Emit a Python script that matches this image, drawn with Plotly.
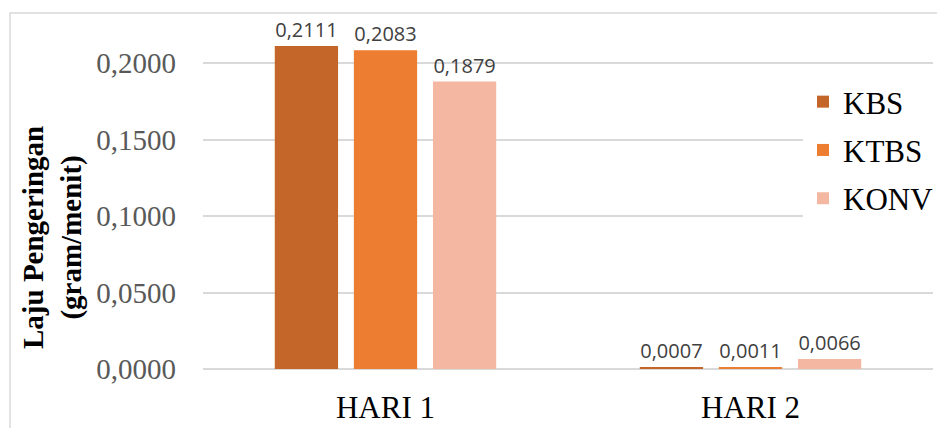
import plotly.graph_objects as go

categories = ["HARI 1", "HARI 2"]
series_names = ["KBS", "KTBS", "KONV"]
kbs = [0.2111, 0.0007]
ktbs = [0.2083, 0.0011]
konv = [0.1879, 0.0066]
colors = ["#C4662A", "#ED7D31", "#F4B7A1"]
y_ticks = [0.0, 0.05, 0.10, 0.15, 0.20]

W, H = 937, 428
L, R, T, B = 203, 4, 13, 59
pw = W - L - R
ph = H - T - B

def px_x(p):
    return (p - L) / pw

def px_y(p):
    return (H - B - p) / ph

fig = go.Figure()
for name, vals, col in zip(series_names, [kbs, ktbs, konv], colors):
    fig.add_trace(go.Bar(
        x=categories, y=vals, name=name, marker_color=col,
        marker_line_width=0,
        texttemplate="%{y:.4f}", textposition="outside", cliponaxis=False,
        textfont=dict(family="Open Sans", size=20, color="#404040"),
        legendgroup=name,
    ))

fig.update_layout(
    width=W, height=H,
    margin=dict(l=L, r=R, t=T, b=B, pad=0, autoexpand=False),
    paper_bgcolor="white", plot_bgcolor="white",
    separators=", ",
    barmode="group", bargap=0.35, bargroupgap=0.2,
    showlegend=True,
    legend=dict(
        x=px_x(803), y=px_y(75), xanchor="left", yanchor="top",
        font=dict(family="Liberation Serif", size=31, color="black"),
        bgcolor="white", tracegroupgap=5, itemwidth=30,
    ),
    xaxis=dict(
        showgrid=False, showline=False, ticks="", automargin=False,
        tickfont=dict(family="Liberation Serif", size=31, color="black"),
        ticklabelstandoff=17,
    ),
    yaxis=dict(
        range=[0, 0.2327], tickvals=y_ticks, tickformat=".4f", automargin=False,
        showgrid=True, gridcolor="#D9D9D9", gridwidth=1.5,
        zeroline=True, zerolinecolor="#D9D9D9", zerolinewidth=2,
        showline=False, ticks="",
        tickfont=dict(family="Liberation Serif", size=29, color="#595959"),
        ticklabelstandoff=26,
    ),
    annotations=[dict(
        text="<b>Laju Pengeringan</b><br><b>(gram/menit)</b>",
        xref="paper", yref="paper", x=px_x(52), y=px_y(238),
        xanchor="center", yanchor="middle", textangle=-90, showarrow=False,
        font=dict(family="Liberation Serif", size=29, color="black"),
    )],
    shapes=[dict(
        type="rect", xref="paper", yref="paper",
        x0=px_x(10), x1=px_x(945), y0=px_y(440), y1=px_y(13),
        line=dict(color="#D9D9D9", width=1.5), fillcolor="rgba(0,0,0,0)",
        layer="below",
    )],
)

fig.write_html(
    "out.html",
    config={"displayModeBar": False},
    post_script="document.body.style.margin='0';document.body.style.overflow='hidden';",
)
